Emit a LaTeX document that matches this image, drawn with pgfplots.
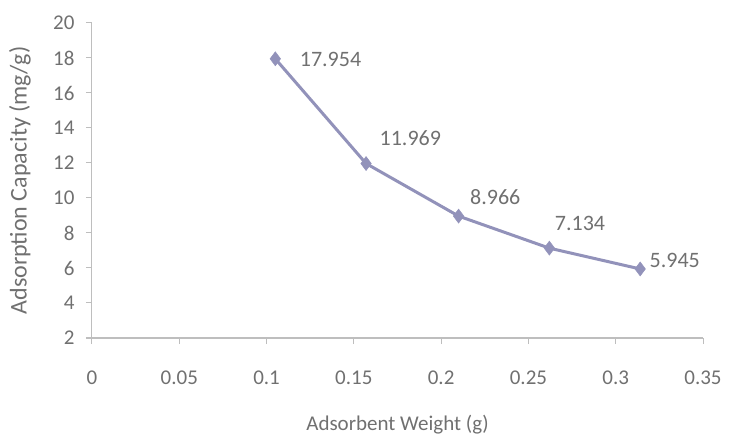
\documentclass[border=0pt]{standalone}
\usepackage{pgfplots}
\pgfplotsset{compat=1.18}
\usepackage{pgfplotstable}
\usepackage{fontspec}
\setmainfont{Carlito}
\definecolor{linec}{RGB}{146,146,186}
\definecolor{txt}{RGB}{112,112,112}
\definecolor{axc}{RGB}{190,190,190}
\pgfplotstableread{
x y dx dy lab
0.105 17.954 21 -1 17.954
0.157 11.969 10 25 11.969
0.210 8.966 8 19 8.966
0.262 7.134 2 25 7.134
0.314 5.945 6 9 5.945
}\datatab
\begin{document}
\begin{tikzpicture}
\begin{axis}[
  name=ax,
  scale only axis,
  width=611pt, height=315pt,
  xmin=0, xmax=0.35, ymin=2, ymax=20,
  xtick={0,0.05,...,0.35},
  ytick={2,4,...,20},
  xticklabels={0,0.05,0.1,0.15,0.2,0.25,0.3,0.35},
  axis lines=left,
  axis line style={-, draw=axc, line width=1pt},
  tick align=outside,
  major tick length=6pt,
  tick style={draw=axc, line width=1pt},
  /pgf/number format/assume math mode=true,
  ticklabel style={font=\fontsize{21}{25}\selectfont, text=txt},
  xticklabel style={yshift=-23pt},
  yticklabel style={xshift=-8pt},
  xlabel={Adsorbent Weight (g)},
  ylabel={Adsorption Capacity (mg/g)},
  xlabel style={font=\fontsize{21}{25}\selectfont, text=txt, at={(axis description cs:0.5,0)}, anchor=center, yshift=-87pt},
  ylabel style={font=\fontsize{24}{28}\selectfont, text=txt, at={(axis description cs:0,0.5)}, anchor=center, yshift=72pt},
  clip=false,
]
\addplot[color=linec, line width=3pt, mark=diamond*, mark size=7pt,
  mark options={fill=linec, draw=linec, line width=0.5pt},
  point meta=explicit symbolic,
  visualization depends on={\thisrow{dx} \as \dx},
  visualization depends on={\thisrow{dy} \as \dy},
  nodes near coords,
  nodes near coords style={anchor=west, xshift=\dx pt, yshift=\dy pt, text=txt, font=\fontsize{22}{26}\selectfont},
] table[x=x, y=y, meta=lab] {\datatab};
\end{axis}
\pgfresetboundingbox
\path ([xshift=-92pt,yshift=-98pt]ax.south west) rectangle ([xshift=49pt,yshift=23pt]ax.north east);
\end{tikzpicture}
\end{document}
